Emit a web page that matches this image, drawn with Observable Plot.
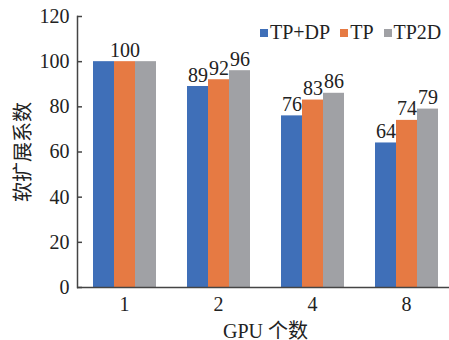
<!DOCTYPE html>
<html>
<head>
<meta charset="utf-8">
<script src="https://cdn.jsdelivr.net/npm/d3@7"></script>
<script src="https://cdn.jsdelivr.net/npm/@observablehq/plot@0.6"></script>
<style>
  body { margin: 0; background: #fff; }
  #chart { position: relative; width: 449px; height: 340px; }
  #legend { position: absolute; left: 260px; top: 21px; width: 200px; white-space: nowrap; }
  #legend .lg-swatches { font-family: "Liberation Serif", "Noto Sans CJK SC", serif !important; font-size: 20px !important; color: #222 !important; min-height: 0 !important; margin: 0 !important; flex-wrap: nowrap !important; }
  #legend .lg-swatch { margin-right: 10px !important; flex-shrink: 0; }
  #legend .lg-swatch > svg { margin-right: 2px !important; }
</style>
</head>
<body>
<div id="chart"><div id="legend"></div></div>
<script>
// GPU counts (categories) and the three parallelism strategies
const gpus = ["1", "2", "4", "8"];
const series = ["TP+DP", "TP", "TP2D"];

// Scaling coefficient per strategy, one value per GPU count
const tpdp = [100, 89, 76, 64];
const tp = [100, 92, 83, 74];
const tp2d = [100, 96, 86, 79];

const yTicks = [0, 20, 40, 60, 80, 100, 120];
const colors = ["#3f6fb8", "#e67a43", "#a0a1a5"];

const values = [tpdp, tp, tp2d];
const rows = gpus.flatMap((g, i) =>
  series.map((s, j) => ({gpu: g, series: s, value: values[j][i]}))
);
// with a single GPU all three coincide, so that group carries one label only
const labelRows = rows.filter((d) => d.gpu !== "1" || d.series === "TP");

const font = '"Liberation Serif", "Noto Sans CJK SC", serif';
const ink = "#222";
const axisColor = "#444";

const plot = Plot.plot({
  width: 449,
  height: 340,
  marginTop: 16,
  marginBottom: 53,
  marginLeft: 75,
  marginRight: -5,
  style: {fontFamily: font, fontSize: "20px", color: ink, background: "#fff"},
  fx: {
    domain: gpus,
    padding: 0,
    axis: "bottom",
    label: "GPU 个数",
    labelAnchor: "center",
    labelOffset: 50,
    tickSize: 0,
    tickPadding: 9
  },
  x: {domain: series, axis: null, paddingInner: 0, paddingOuter: 0.735},
  y: {domain: [0, 120]},
  color: {domain: series, range: colors},
  marks: [
    Plot.barY(rows, {fx: "gpu", x: "series", y: "value", fill: "series"}),
    Plot.ruleY([0], {stroke: axisColor, strokeWidth: 1.5}),
    Plot.frame({anchor: "left", facetAnchor: "left", stroke: axisColor, strokeWidth: 1.5}),
    Plot.axisY({
      ticks: yTicks,
      tickSize: -5,
      tickPadding: 13,
      stroke: axisColor,
      strokeWidth: 1.5,
      fill: ink,
      label: "软扩展系数",
      labelAnchor: "center",
      labelArrow: "none",
      labelOffset: 62
    }),
    Plot.text(labelRows, {
      fx: "gpu",
      x: "series",
      y: "value",
      text: "value",
      lineAnchor: "bottom",
      dy: -5,
      fill: ink
    })
  ]
});

document.getElementById("chart").prepend(plot);

const legend = Plot.legend({
  color: {type: "ordinal", domain: series, range: colors},
  swatchSize: 8,
  className: "lg"
});
document.getElementById("legend").append(legend);
</script>
</body>
</html>
